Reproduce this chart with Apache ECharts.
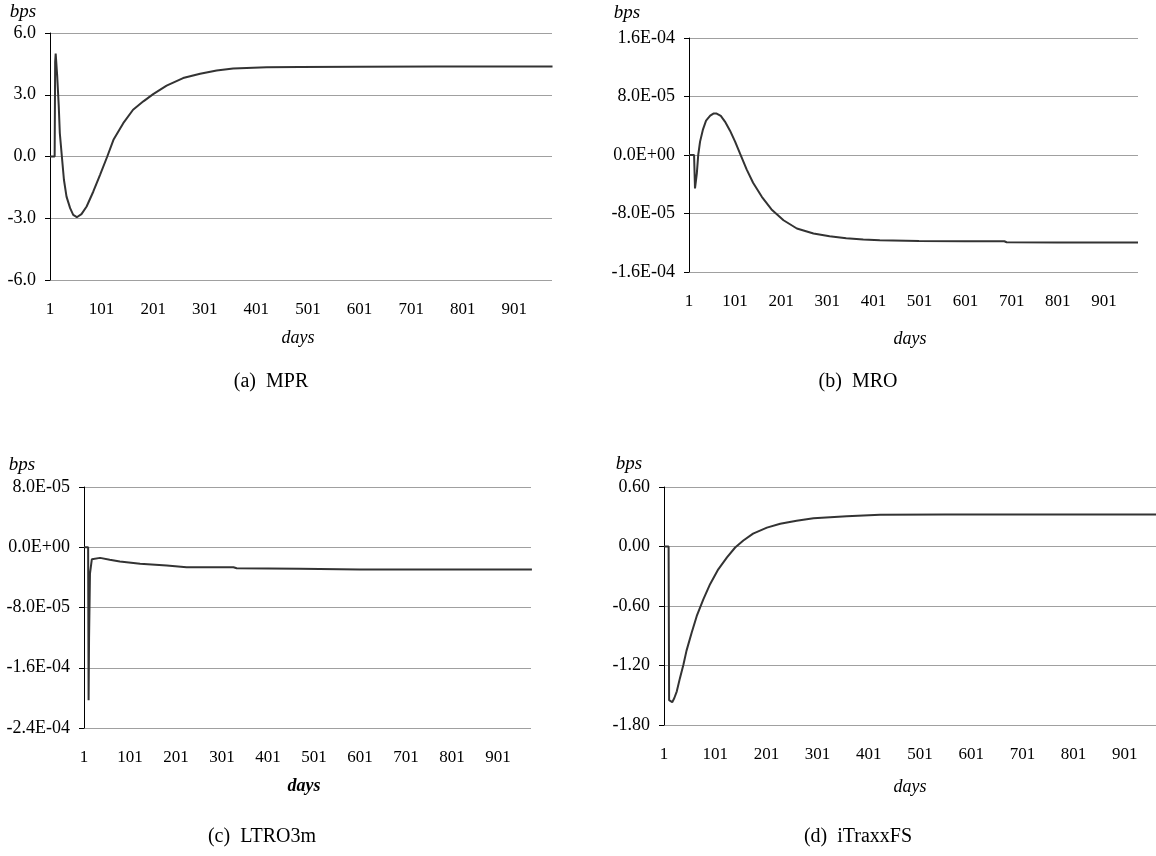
<!DOCTYPE html>
<html><head><meta charset="utf-8">
<script src="https://cdn.jsdelivr.net/npm/echarts@6/dist/echarts.min.js"></script>
<style>html,body{margin:0;padding:0;background:#fff}#c{width:1156px;height:856px}</style>
</head><body><div id="c"></div>
<script>
// ---- data ----
const mprDays = [1,10,11,12,15,18,20,24,28,33,40,46,53,62,72,85,98,112,124,143,162,182,201,227,259,292,324,356,421,485,600,750,975];
const mprVals = [0,0,4.6,5.0,3.89,2.43,1.14,0,-1.13,-1.95,-2.51,-2.84,-2.95,-2.8,-2.43,-1.7,-0.89,0,0.81,1.62,2.27,2.68,3.03,3.44,3.81,4.02,4.18,4.27,4.33,4.35,4.36,4.37,4.37];

const mroDays = [1,12,14,18,21,25,31,38,47,54,61,70,79,90,101,112,126,140,159,180,206,235,271,306,342,379,415,500,600,685,690,800,975];
const mroVals = [0,0,-4.57e-5,-2.51e-5,0,1.83e-5,3.43e-5,4.71e-5,5.39e-5,5.67e-5,5.67e-5,5.35e-5,4.57e-5,3.33e-5,1.83e-5,0.14e-5,-1.96e-5,-3.8e-5,-5.72e-5,-7.45e-5,-8.92e-5,-10.05e-5,-10.74e-5,-11.12e-5,-11.39e-5,-11.57e-5,-11.66e-5,-11.75e-5,-11.78e-5,-11.8e-5,-11.93e-5,-11.95e-5,-11.95e-5];

const ltroDays = [1,10,11,12,14,18,22,36,57,79,123,181,224,326,333,470,600,975];
const ltroVals = [0,0,-20.3e-5,-12e-5,-3.5e-5,-1.6e-5,-1.45e-5,-1.41e-5,-1.67e-5,-1.9e-5,-2.2e-5,-2.43e-5,-2.65e-5,-2.65e-5,-2.78e-5,-2.87e-5,-2.95e-5,-2.95e-5];

const itxDays = [1,10,11,13,17,21,26,32,39,45,55,65,78,91,107,124,140,156,175,202,228,260,293,358,423,550,700,962];
const itxVals = [0,0,-1.55,-1.56,-1.57,-1.53,-1.46,-1.33,-1.19,-1.05,-0.87,-0.7,-0.53,-0.38,-0.23,-0.11,-0.01,0.06,0.13,0.19,0.23,0.26,0.285,0.305,0.32,0.322,0.322,0.322];

const captions = ['(a)  MPR','(b)  MRO','(c)  LTRO3m','(d)  iTraxxFS'];
const yUnit = 'bps';
const xUnit = 'days';

// ---- helpers ----
function sci(v){
  if (Math.abs(v) < 1e-12) return '0.0E+00';
  let e = Math.floor(Math.log10(Math.abs(v)));
  let m = v/Math.pow(10,e);
  if (Math.round(Math.abs(m)*10)/10 >= 10){ e++; m = v/Math.pow(10,e); }
  return m.toFixed(1)+'E'+(e<0?'-':'+')+String(Math.abs(e)).padStart(2,'0');
}
function pairs(d,v){ return d.map((x,i)=>[x,v[i]]); }

const FONT = 'Liberation Serif';
const panels = [
  {grid:{left:50,right:604,top:33,bottom:576}, xmax:974, y:[-6,6,3], fmt:v=>v.toFixed(1), data:pairs(mprDays,mprVals)},
  {grid:{left:689,right:18,top:38,bottom:584}, xmax:975, y:[-1.6e-4,1.6e-4,8e-5], fmt:sci, data:pairs(mroDays,mroVals)},
  {grid:{left:84,right:625,top:487,bottom:128}, xmax:973, y:[-2.4e-4,8e-5,8e-5], fmt:sci, data:pairs(ltroDays,ltroVals)},
  {grid:{left:664,right:0,top:487,bottom:131}, xmax:962, y:[-1.8,0.6,0.6], fmt:v=>v.toFixed(2), data:pairs(itxDays,itxVals)}
];

const option = {
  animation:false,
  grid: panels.map(p=>Object.assign({containLabel:false},p.grid)),
  xAxis: panels.map((p,i)=>({
    type:'value', gridIndex:i, min:1, max:p.xmax, interval:100,
    axisLine:{show:false}, axisTick:{show:false}, splitLine:{show:false},
    axisLabel:{margin:21, fontFamily:FONT, fontSize:17, color:'#000', showMaxLabel:false,
      formatter:v=>((Math.round(v)-1)%100===0 && v<p.xmax)?String(Math.round(v)):''}
  })),
  yAxis: panels.map((p,i)=>({
    type:'value', gridIndex:i, min:p.y[0], max:p.y[1], interval:p.y[2],
    axisLine:{show:true, onZero:false, lineStyle:{color:'#000',width:1}},
    axisTick:{show:true, inside:false, length:5, lineStyle:{color:'#000'}},
    splitLine:{show:true, lineStyle:{color:'#a0a0a0',width:1}},
    axisLabel:{margin:14, fontFamily:FONT, fontSize:18, color:'#000', formatter:p.fmt}
  })),
  series: panels.map((p,i)=>({
    type:'line', xAxisIndex:i, yAxisIndex:i, data:p.data, showSymbol:false,
    lineStyle:{color:'#333',width:2}, z:5
  })),
  graphic: [
    {type:'text', x:23, y:12, style:{text:yUnit, font:'italic 19px "Liberation Serif"', fill:'#000', align:'center', verticalAlign:'middle'}},
    {type:'text', x:627, y:13, style:{text:yUnit, font:'italic 19px "Liberation Serif"', fill:'#000', align:'center', verticalAlign:'middle'}},
    {type:'text', x:22, y:465, style:{text:yUnit, font:'italic 19px "Liberation Serif"', fill:'#000', align:'center', verticalAlign:'middle'}},
    {type:'text', x:629, y:464, style:{text:yUnit, font:'italic 19px "Liberation Serif"', fill:'#000', align:'center', verticalAlign:'middle'}},
    {type:'text', x:298, y:338, style:{text:xUnit, font:'italic 18px "Liberation Serif"', fill:'#000', align:'center', verticalAlign:'middle'}},
    {type:'text', x:910, y:339, style:{text:xUnit, font:'italic 18px "Liberation Serif"', fill:'#000', align:'center', verticalAlign:'middle'}},
    {type:'text', x:304, y:786, style:{text:xUnit, font:'italic bold 18px "Liberation Serif"', fill:'#000', align:'center', verticalAlign:'middle'}},
    {type:'text', x:910, y:787, style:{text:xUnit, font:'italic 18px "Liberation Serif"', fill:'#000', align:'center', verticalAlign:'middle'}},
    {type:'text', x:271, y:382, style:{text:captions[0], font:'20px "Liberation Serif"', fill:'#000', align:'center', verticalAlign:'middle'}},
    {type:'text', x:858, y:382, style:{text:captions[1], font:'20px "Liberation Serif"', fill:'#000', align:'center', verticalAlign:'middle'}},
    {type:'text', x:262, y:837, style:{text:captions[2], font:'20px "Liberation Serif"', fill:'#000', align:'center', verticalAlign:'middle'}},
    {type:'text', x:858, y:837, style:{text:captions[3], font:'20px "Liberation Serif"', fill:'#000', align:'center', verticalAlign:'middle'}}
  ]
};
const chart = echarts.init(document.getElementById('c'), null, {renderer:'canvas'});
chart.setOption(option);
</script>
</body></html>
